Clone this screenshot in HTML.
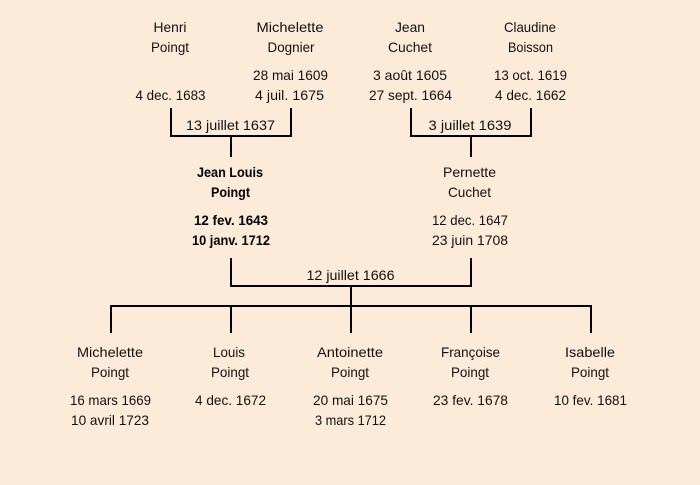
<!DOCTYPE html>
<html><head><meta charset="utf-8"><style>
html,body{margin:0;padding:0;background:#fcebd9;width:700px;height:485px;overflow:hidden}
svg{display:block}
text{font-family:"Liberation Sans","DejaVu Sans",sans-serif;font-size:14px;fill:#111;text-anchor:middle}
.b{font-weight:bold;fill:#000}
</style></head><body>
<svg width="700" height="485" viewBox="0 0 700 485" xmlns="http://www.w3.org/2000/svg">
<rect width="700" height="485" fill="#fcebd9"/>
<g fill="none" stroke="#000" stroke-width="2">
<path d="M171 108V136H291V108M231 136V157"/>
<path d="M411 108V136H531V108M471 136V157"/>
<path d="M231 258V286H471V258M351 286V306"/>
<path d="M111 333V306H591V333M231 306V333M351 306V333M471 306V333"/>
</g>
<g lengthAdjust="spacingAndGlyphs">
<text x="170" y="32" textLength="33" lengthAdjust="spacingAndGlyphs">Henri</text>
<text x="170" y="52" textLength="38" lengthAdjust="spacingAndGlyphs">Poingt</text>
<text x="170.5" y="100" textLength="70" lengthAdjust="spacingAndGlyphs">4 dec. 1683</text>
<text x="290" y="32" textLength="67" lengthAdjust="spacingAndGlyphs">Michelette</text>
<text x="291" y="52" textLength="47" lengthAdjust="spacingAndGlyphs">Dognier</text>
<text x="290.5" y="80" textLength="75" lengthAdjust="spacingAndGlyphs">28 mai 1609</text>
<text x="289.5" y="100" textLength="69" lengthAdjust="spacingAndGlyphs">4 juil. 1675</text>
<text x="230.5" y="130" textLength="89" lengthAdjust="spacingAndGlyphs">13 juillet 1637</text>
<text x="410" y="32" textLength="30" lengthAdjust="spacingAndGlyphs">Jean</text>
<text x="410" y="52" textLength="44" lengthAdjust="spacingAndGlyphs">Cuchet</text>
<text x="410" y="80" textLength="74" lengthAdjust="spacingAndGlyphs">3 août 1605</text>
<text x="410.5" y="100" textLength="83" lengthAdjust="spacingAndGlyphs">27 sept. 1664</text>
<text x="530" y="32" textLength="52" lengthAdjust="spacingAndGlyphs">Claudine</text>
<text x="530.5" y="52" textLength="45" lengthAdjust="spacingAndGlyphs">Boisson</text>
<text x="530.5" y="80" textLength="73" lengthAdjust="spacingAndGlyphs">13 oct. 1619</text>
<text x="530.5" y="100" textLength="71" lengthAdjust="spacingAndGlyphs">4 dec. 1662</text>
<text x="470" y="130" textLength="83" lengthAdjust="spacingAndGlyphs">3 juillet 1639</text>
<text class="b" x="230" y="177" textLength="66" lengthAdjust="spacingAndGlyphs">Jean Louis</text>
<text class="b" x="230.5" y="197" textLength="39" lengthAdjust="spacingAndGlyphs">Poingt</text>
<text class="b" x="231" y="225" textLength="74" lengthAdjust="spacingAndGlyphs">12 fev. 1643</text>
<text class="b" x="231" y="245" textLength="78" lengthAdjust="spacingAndGlyphs">10 janv. 1712</text>
<text x="469.5" y="177" textLength="53" lengthAdjust="spacingAndGlyphs">Pernette</text>
<text x="469.5" y="197" textLength="43" lengthAdjust="spacingAndGlyphs">Cuchet</text>
<text x="470" y="225" textLength="76" lengthAdjust="spacingAndGlyphs">12 dec. 1647</text>
<text x="470" y="245" textLength="76" lengthAdjust="spacingAndGlyphs">23 juin 1708</text>
<text x="350.5" y="280" textLength="88" lengthAdjust="spacingAndGlyphs">12 juillet 1666</text>
<text x="110" y="357" textLength="66" lengthAdjust="spacingAndGlyphs">Michelette</text>
<text x="110" y="377" textLength="38" lengthAdjust="spacingAndGlyphs">Poingt</text>
<text x="110.5" y="405" textLength="81" lengthAdjust="spacingAndGlyphs">16 mars 1669</text>
<text x="110" y="425" textLength="78" lengthAdjust="spacingAndGlyphs">10 avril 1723</text>
<text x="229" y="357" textLength="32" lengthAdjust="spacingAndGlyphs">Louis</text>
<text x="230" y="377" textLength="38" lengthAdjust="spacingAndGlyphs">Poingt</text>
<text x="230.5" y="405" textLength="71" lengthAdjust="spacingAndGlyphs">4 dec. 1672</text>
<text x="350" y="357" textLength="66" lengthAdjust="spacingAndGlyphs">Antoinette</text>
<text x="350" y="377" textLength="38" lengthAdjust="spacingAndGlyphs">Poingt</text>
<text x="350.5" y="405" textLength="75" lengthAdjust="spacingAndGlyphs">20 mai 1675</text>
<text x="350.5" y="425" textLength="71" lengthAdjust="spacingAndGlyphs">3 mars 1712</text>
<text x="470.5" y="357" textLength="59" lengthAdjust="spacingAndGlyphs">Françoise</text>
<text x="470" y="377" textLength="38" lengthAdjust="spacingAndGlyphs">Poingt</text>
<text x="470.5" y="405" textLength="75" lengthAdjust="spacingAndGlyphs">23 fev. 1678</text>
<text x="590" y="357" textLength="50" lengthAdjust="spacingAndGlyphs">Isabelle</text>
<text x="590" y="377" textLength="38" lengthAdjust="spacingAndGlyphs">Poingt</text>
<text x="590.5" y="405" textLength="73" lengthAdjust="spacingAndGlyphs">10 fev. 1681</text>
</g>
</svg>
</body></html>
